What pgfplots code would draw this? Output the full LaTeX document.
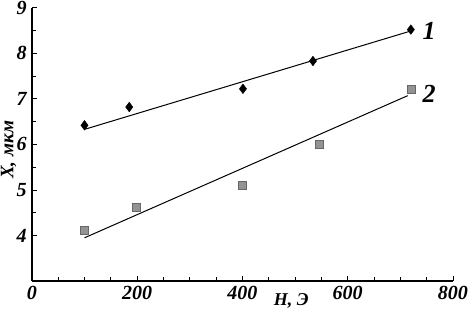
\documentclass[border=0pt]{standalone}
\usepackage{pgfplots}
\pgfplotsset{compat=1.18}
\usepackage{fontspec}
\setmainfont{Liberation Serif}
\begin{document}
\begin{tikzpicture}[x=1bp,y=1bp]
\begin{axis}[
  scale only axis,
  width=419bp, height=272bp,
  xmin=0, xmax=800, ymin=3, ymax=9,
  axis lines=left,
  axis line style={-, line width=1.5pt},
  xtick={0,200,400,600,800},
  ytick={4,5,6,7,8,9},
  minor x tick num=3,
  minor y tick num=1,
  tick align=inside,
  major tick length=5bp,
  minor tick length=4bp,
  tick style={line width=0.9pt, black},
  /pgf/number format/assume math mode=true,
  ticklabel style={font=\fontsize{20}{20}\selectfont\bfseries\itshape, inner sep=1bp},
  xticklabel style={yshift=-4bp},
  yticklabel style={xshift=-4bp},
  xlabel={H, Э},
  ylabel={X, мкм},
  xlabel style={font=\fontsize{18}{18}\selectfont\bfseries\itshape, inner sep=1bp, at={(axis description cs:0.616,0)}, anchor=center, yshift=-20bp},
  ylabel style={font=\fontsize{19}{19}\selectfont\bfseries\itshape, inner sep=1bp, at={(axis description cs:-0.055,0.48)}, anchor=center},
  clip=false,
]
% series 1 points
\addplot[only marks, mark=diamond*, mark size=4.8bp, black] coordinates {
 (100,6.42) (185,6.82) (401,7.22) (534,7.83) (720,8.52)
};
% series 1 fit
\addplot[black, line width=1pt] coordinates {(100,6.33) (720,8.49)};
% series 2 points
\addplot[only marks, mark=square*, mark size=4bp, draw=gray!80!black, fill=gray!85] coordinates {
 (100,4.12) (198,4.62) (400,5.11) (546,6.0) (720,7.22)
};
% series 2 fit
\addplot[black, line width=1pt] coordinates {(100,3.95) (714,7.07)};
\node[font=\fontsize{26}{26}\selectfont\bfseries\itshape, anchor=west, inner sep=1bp] at (axis cs:740,8.5) {1};
\node[font=\fontsize{26}{26}\selectfont\bfseries\itshape, anchor=west, inner sep=1bp] at (axis cs:740,7.1) {2};
\end{axis}
\end{tikzpicture}
\end{document}
